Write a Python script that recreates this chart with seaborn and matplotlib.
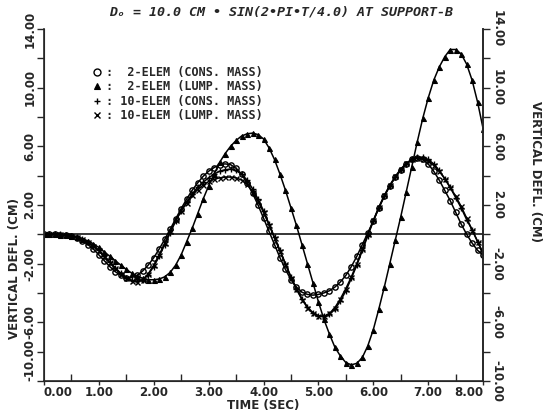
import numpy as np
import pandas as pd
import matplotlib
matplotlib.use("Agg")
import matplotlib.pyplot as plt
import seaborn as sns
from matplotlib.lines import Line2D

sns.set_style("ticks")
plt.rcParams['font.family'] = ['DejaVu Sans']

time = np.round(np.arange(0, 81) * 0.1, 1)

cons2 = [0, 0, 0, -0.02, -0.05, -0.12, -0.25, -0.45, -0.7, -1.0,
         -1.4, -1.8, -2.2, -2.55, -2.8, -2.95, -2.95, -2.8, -2.5, -2.1,
         -1.6, -1.0, -0.35, 0.35, 1.05, 1.75, 2.4, 3.0, 3.5, 3.95,
         4.3, 4.55, 4.75, 4.8, 4.75, 4.5, 4.1, 3.5, 2.8, 2.0,
         1.1, 0.2, -0.7, -1.6, -2.4, -3.1, -3.6, -3.95, -4.1, -4.15,
         -4.1, -4.0, -3.85, -3.6, -3.25, -2.8, -2.2, -1.5, -0.7, 0.1,
         0.9, 1.8, 2.6, 3.3, 3.9, 4.4, 4.8, 5.1, 5.2, 5.1,
         4.8, 4.3, 3.7, 3.0, 2.3, 1.5, 0.7, 0.0, -0.6, -1.1, -1.4]

lump2 = [0, 0, 0, -0.02, -0.05, -0.1, -0.18, -0.3, -0.45, -0.65,
         -0.9, -1.2, -1.5, -1.8, -2.1, -2.4, -2.65, -2.85, -3.0, -3.1,
         -3.1, -3.05, -2.9, -2.6, -2.1, -1.4, -0.5, 0.4, 1.4, 2.4,
         3.3, 4.1, 4.9, 5.5, 6.0, 6.4, 6.7, 6.85, 6.9, 6.8,
         6.5, 5.9, 5.1, 4.1, 3.0, 1.8, 0.6, -0.7, -2.0, -3.3,
         -4.6, -5.8, -6.8, -7.7, -8.3, -8.75, -8.9, -8.8, -8.4, -7.6,
         -6.5, -5.1, -3.6, -2.0, -0.4, 1.2, 2.9, 4.6, 6.3, 7.9,
         9.3, 10.5, 11.4, 12.1, 12.6, 12.6, 12.3, 11.6, 10.5, 9.0, 7.2]

cons10 = [0, 0, 0, -0.01, -0.04, -0.1, -0.2, -0.35, -0.55, -0.8,
          -1.1, -1.5, -1.9, -2.3, -2.65, -2.95, -3.15, -3.2, -3.1, -2.75,
          -2.2, -1.5, -0.7, 0.1, 0.9, 1.6, 2.2, 2.75, 3.2, 3.55,
          3.85, 4.1, 4.3, 4.4, 4.45, 4.35, 4.1, 3.7, 3.1, 2.4,
          1.6, 0.7, -0.2, -1.1, -2.0, -2.9, -3.7, -4.4, -4.95, -5.35,
          -5.55, -5.6, -5.45, -5.1, -4.55, -3.85, -3.0, -2.1, -1.1, -0.1,
          0.9, 1.8, 2.6, 3.3, 3.9, 4.4, 4.8, 5.1, 5.25, 5.25,
          5.1, 4.8, 4.35, 3.8, 3.2, 2.5, 1.8, 1.0, 0.3, -0.5, -1.3]

lump10 = [0, 0, 0, -0.01, -0.04, -0.1, -0.2, -0.35, -0.55, -0.8,
          -1.1, -1.5, -1.9, -2.3, -2.7, -3.0, -3.2, -3.25, -3.1, -2.7,
          -2.1, -1.4, -0.6, 0.2, 0.95, 1.6, 2.15, 2.65, 3.05, 3.35,
          3.6, 3.75, 3.85, 3.9, 3.9, 3.85, 3.7, 3.4, 2.9, 2.25,
          1.5, 0.65, -0.25, -1.15, -2.05, -2.95, -3.75, -4.45, -5.0, -5.4,
          -5.6, -5.6, -5.4, -5.0, -4.4, -3.7, -2.9, -2.0, -1.0, 0.0,
          0.95, 1.85, 2.65, 3.35, 3.95, 4.45, 4.85, 5.1, 5.2, 5.15,
          5.0, 4.7, 4.3, 3.8, 3.2, 2.6, 1.9, 1.1, 0.3, -0.5, -1.3]

labels = [":  2-ELEM (CONS. MASS)", ":  2-ELEM (LUMP. MASS)",
          ": 10-ELEM (CONS. MASS)", ": 10-ELEM (LUMP. MASS)"]
title = "D\u2092 = 10.0 CM \u2022 SIN(2\u2022PI\u2022T/4.0) AT SUPPORT-B"
ylabel = "VERTICAL DEFL. (CM)"
xlabel = "TIME (SEC)"
xticks = [0, 1, 2, 3, 4, 5, 6, 7, 8]
yticks = [-10, -6, -2, 2, 6, 10, 14]

series = [cons2, lump2, cons10, lump10]
styles = [dict(marker='o', mfc='none', mec='k', ms=3.8, mew=1.0),
          dict(marker='^', mfc='k', mec='k', ms=3.6, mew=0.8),
          dict(marker='+', mec='k', ms=4.5, mew=1.0),
          dict(marker='x', mec='k', ms=3.6, mew=1.0)]

fig = plt.figure(figsize=(5.49, 4.20), dpi=100)
ax = fig.add_axes([0.080, 0.093, 0.800, 0.838])

for vals, st in zip(series, styles):
    df = pd.DataFrame({"t": time, "v": vals})
    sns.lineplot(data=df, x="t", y="v", ax=ax, color='k', lw=1.1, **st)

ax.axhline(0, color='k', lw=1.1)
ax.set_xlim(0, 8)
ax.set_ylim(-10, 14)

fs = 8.5
mono = 'DejaVu Sans Mono'
ax.set_xticks(xticks)
ax.set_xticklabels([f"{v:.2f}" for v in xticks], fontsize=fs, fontweight='bold')
xtl = ax.get_xticklabels()
xtl[0].set_ha('left')
xtl[-1].set_ha('right')
ax.set_xticks(np.arange(0.5, 8, 1.0), minor=True)
ax.tick_params(axis='x', which='major', direction='out', length=3, width=1, pad=1)
ax.tick_params(axis='x', which='minor', direction='in', length=5, width=1)

ax.set_yticks(yticks)
ax.set_yticklabels([f"{v:.2f}" for v in yticks], fontsize=fs, fontweight='bold',
                   rotation=90, va='center')
ax.get_yticklabels()[0].set_va('bottom')
ax.set_yticks(np.arange(-8, 14, 4), minor=True)
ax.tick_params(axis='y', which='both', direction='out', length=5, width=1, pad=0.5)

ax.set_xlabel(xlabel, fontsize=fs, fontweight='bold', labelpad=0)
ax.set_ylabel(ylabel, fontsize=fs, fontweight='bold', va='center', ha='center')
ax.yaxis.set_label_coords(-0.068, 0.32)
ax.spines['top'].set_visible(False)
for s in ['left', 'bottom', 'right']:
    ax.spines[s].set_linewidth(1.2)

ax2 = ax.twinx()
ax2.set_ylim(-10, 14)
ax2.set_yticks(yticks)
ax2.set_yticklabels([f"{v:.2f}" for v in yticks], fontsize=fs, fontweight='bold',
                    rotation=-90, va='center')
ax2.set_yticks(np.arange(-8, 14, 4), minor=True)
ax2.tick_params(axis='y', which='both', direction='out', length=5, width=1, pad=0.5)
ax2.set_ylabel(ylabel, fontsize=fs, fontweight='bold', rotation=-90,
               va='center', ha='center')
ax2.yaxis.set_label_coords(1.12, 0.594)
ax2.spines['top'].set_visible(False)
ax2.spines['right'].set_linewidth(1.2)

ax.text(0.54, 1.048, title, transform=ax.transAxes, ha='center', va='center',
        fontsize=9.6, fontweight='bold', family=mono, style='italic')

handles = [Line2D([], [], color='k', ls='none', **st) for st in styles]
leg = ax.legend(handles, labels, loc='upper left', bbox_to_anchor=(0.107, 0.895),
                frameon=False, handlelength=1.0, handletextpad=0.3,
                labelspacing=0.12, borderpad=0, borderaxespad=0,
                prop=dict(size=8.5, weight='bold', family=mono))
for h in leg.legend_handles:
    h.set_markersize(5)

fig.savefig("out.png", dpi=100)
